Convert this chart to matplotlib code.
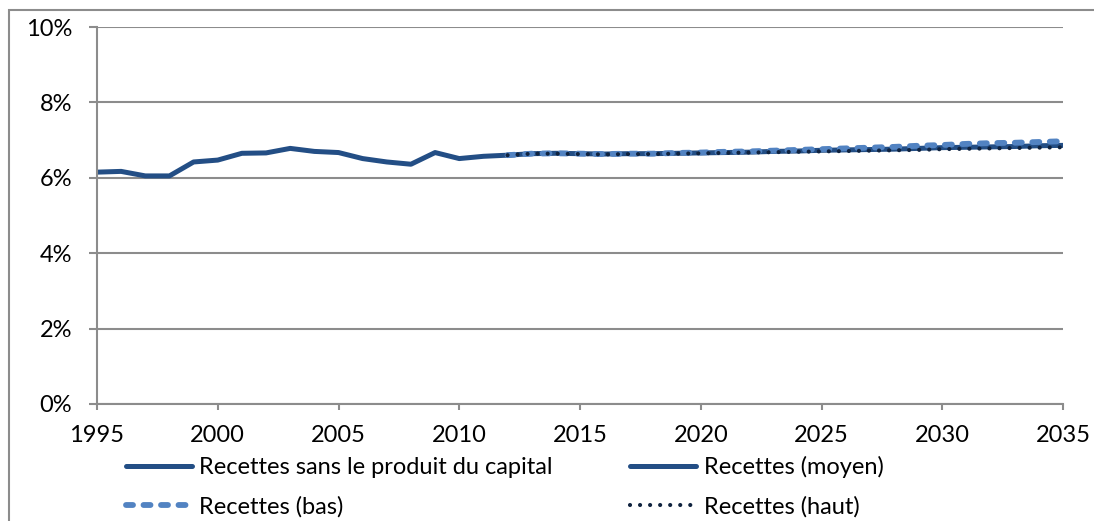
import matplotlib.pyplot as plt
from matplotlib.patches import Rectangle
from matplotlib.ticker import FuncFormatter

#===== DATA =====
years_hist = list(range(1995, 2013))
recettes_hist = [6.15, 6.17, 6.05, 6.05, 6.42, 6.47, 6.65, 6.66, 6.78, 6.70,
                 6.67, 6.51, 6.42, 6.36, 6.67, 6.51, 6.57, 6.60]

years_proj = list(range(2012, 2036))
recettes_moyen = [6.60, 6.64, 6.65, 6.64, 6.63, 6.64, 6.64, 6.65, 6.66, 6.67,
                  6.68, 6.70, 6.71, 6.73, 6.74, 6.75, 6.76, 6.78, 6.80, 6.81,
                  6.82, 6.83, 6.85, 6.86]
recettes_bas = [6.60, 6.64, 6.65, 6.64, 6.63, 6.64, 6.64, 6.66, 6.67, 6.69,
                6.70, 6.72, 6.74, 6.76, 6.78, 6.80, 6.82, 6.85, 6.87, 6.90,
                6.92, 6.93, 6.95, 6.97]
recettes_haut = [6.60, 6.64, 6.64, 6.63, 6.62, 6.63, 6.63, 6.64, 6.65, 6.66,
                 6.67, 6.68, 6.69, 6.70, 6.71, 6.72, 6.73, 6.74, 6.76, 6.77,
                 6.78, 6.79, 6.80, 6.81]

labels = ["Recettes sans le produit du capital", "Recettes (moyen)",
          "Recettes (bas)", "Recettes (haut)"]

#===== STYLE =====
plt.rcParams['font.family'] = ['Lato', 'DejaVu Sans']
grid_col = '#8c8c8c'
fs = 17

fig = plt.figure(figsize=(10.94, 5.21), dpi=100)
ax = fig.add_axes([97/1094, 1-404/521, (1063-97)/1094, (404-27)/521])

# outer chart border (cut off at right and bottom like the reference)
fig.patches.append(Rectangle((9/1094, -0.2), 1.2, 1.2 - 10/521,
                             transform=fig.transFigure, fill=False,
                             edgecolor=grid_col, linewidth=1.5))

l_hist, = ax.plot(years_hist, recettes_hist, color='#234e85', lw=3.6,
                  solid_capstyle='round', label=labels[0])
l_moy, = ax.plot(years_proj, recettes_moyen, color='#234e85', lw=3.6,
                 solid_capstyle='round', label=labels[1])
l_bas, = ax.plot(years_proj, recettes_bas, color='#5283c2', lw=4.2,
                 dashes=(1.2, 1.8), dash_capstyle='round', label=labels[2])
l_haut, = ax.plot(years_proj, recettes_haut, color='#10233f', lw=3.0,
                  dashes=(0.01, 2.4), dash_capstyle='round', label=labels[3])

ax.set_xlim(1995, 2035)
ax.set_ylim(0, 10)
ax.set_xticks(range(1995, 2036, 5))
ax.set_yticks(range(0, 11, 2))
ax.yaxis.set_major_formatter(FuncFormatter(lambda v, p: "%d%%" % v))
ax.grid(axis='y', color=grid_col, lw=1.5)
ax.set_axisbelow(True)

for s in ['top', 'right']:
    ax.spines[s].set_visible(False)
for s in ['left', 'bottom']:
    ax.spines[s].set_color(grid_col)
    ax.spines[s].set_linewidth(1.5)

ax.tick_params(axis='y', direction='out', length=6, width=1.5, color=grid_col,
               pad=12, labelsize=fs)
ax.tick_params(axis='x', direction='out', length=4, width=1.5, color=grid_col,
               pad=11, labelsize=fs)

# legend order: row 1 = historical, moyen ; row 2 = bas, haut
handles = [l_hist, l_bas, l_moy, l_haut]
leg = ax.legend(handles, [h.get_label() for h in handles],
                loc='upper left', bbox_to_anchor=(0.02, -0.113), ncol=2,
                frameon=False, fontsize=fs, handlelength=2.8, handletextpad=0.3,
                columnspacing=3.3, labelspacing=0.75, borderaxespad=0)

fig.savefig('out.png', dpi=100)
